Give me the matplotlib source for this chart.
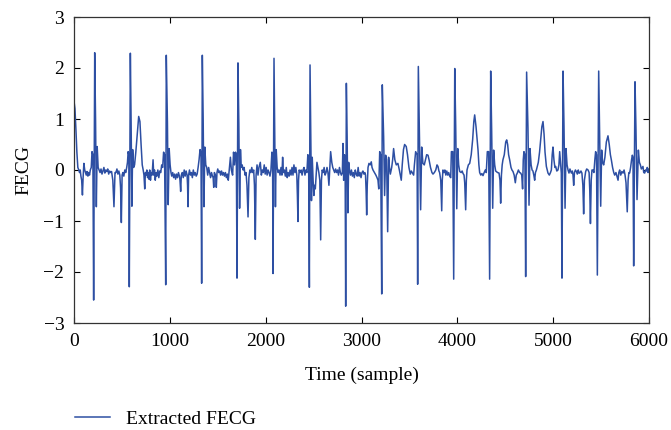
import matplotlib
matplotlib.use('Agg')
import matplotlib.pyplot as plt

# sample index / amplitude pairs
time_sample = [
    0, 10, 20, 30, 40, 50, 58, 65, 72, 80,
    88, 95, 103, 112, 120, 128, 136, 145, 153, 162,
    170, 180, 188, 197, 205, 216, 225, 233, 242, 252,
    262, 272, 282, 292, 302, 312, 322, 332, 342, 352,
    362, 372, 382, 392, 405, 417, 428, 438, 448, 458,
    468, 478, 486, 494, 502, 510, 520, 530, 540, 550,
    558, 565, 572, 577, 588, 596, 604, 612, 622, 632,
    645, 660, 675, 688, 700, 712, 722, 730, 738, 745,
    752, 760, 768, 775, 782, 790, 798, 806, 815, 825,
    832, 840, 848, 856, 865, 875, 885, 895, 905, 915,
    925, 935, 945, 957, 963, 975, 983, 993, 1003, 1012,
    1020, 1030, 1040, 1050, 1060, 1070, 1080, 1090, 1100, 1106,
    1113, 1120, 1130, 1140, 1150, 1160, 1170, 1180, 1185, 1190,
    1196, 1205, 1215, 1225, 1235, 1245, 1255, 1265, 1275, 1285,
    1295, 1305, 1315, 1325, 1332, 1339, 1348, 1356, 1365, 1375,
    1385, 1395, 1405, 1415, 1425, 1435, 1445, 1452, 1458, 1465,
    1475, 1480, 1485, 1492, 1500, 1510, 1520, 1530, 1540, 1550,
    1560, 1570, 1580, 1590, 1600, 1610, 1620, 1632, 1642, 1655,
    1665, 1675, 1685, 1694, 1701, 1711, 1720, 1728, 1737, 1745,
    1755, 1765, 1775, 1785, 1795, 1805, 1816, 1825, 1835, 1845,
    1855, 1865, 1875, 1883, 1892, 1900, 1910, 1920, 1930, 1944,
    1955, 1965, 1975, 1985, 1995, 2005, 2015, 2025, 2035, 2045,
    2055, 2065, 2072, 2077, 2087, 2094, 2102, 2110, 2120, 2130,
    2140, 2150, 2160, 2170, 2177, 2185, 2195, 2205, 2215, 2225,
    2235, 2245, 2255, 2265, 2275, 2285, 2295, 2305, 2315, 2325,
    2331, 2337, 2343, 2350, 2360, 2370, 2380, 2390, 2400, 2410,
    2420, 2430, 2440, 2448, 2456, 2463, 2470, 2478, 2486, 2495,
    2503, 2510, 2518, 2525, 2535, 2545, 2555, 2565, 2574, 2582,
    2590, 2600, 2610, 2620, 2630, 2640, 2650, 2660, 2668, 2678,
    2690, 2700, 2710, 2720, 2730, 2740, 2750, 2760, 2770, 2780,
    2790, 2800, 2807, 2814, 2822, 2829, 2835, 2842, 2850, 2858,
    2866, 2875, 2885, 2895, 2905, 2915, 2925, 2935, 2945, 2955,
    2965, 2975, 2985, 2995, 3005, 3015, 3025, 3035, 3042, 3048,
    3054, 3060, 3068, 3078, 3090, 3102, 3110, 3120, 3135, 3150,
    3162, 3172, 3180, 3190, 3200, 3211, 3217, 3231, 3241, 3252,
    3262, 3273, 3283, 3292, 3301, 3315, 3325, 3335, 3348, 3363,
    3380, 3395, 3405, 3415, 3425, 3438, 3450, 3467, 3480, 3495,
    3509, 3520, 3532, 3544, 3552, 3565, 3580, 3586, 3593, 3603,
    3617, 3628, 3641, 3655, 3668, 3680, 3694, 3705, 3720, 3735,
    3746, 3760, 3775, 3788, 3798, 3808, 3815, 3827, 3837, 3843,
    3850, 3860, 3870, 3880, 3890, 3900, 3910, 3920, 3931, 3938,
    3952, 3962, 3973, 3983, 3994, 4004, 4014, 4025, 4040, 4050,
    4060, 4070, 4077, 4087, 4094, 4101, 4115, 4129, 4145, 4160,
    4172, 4181, 4195, 4206, 4216, 4225, 4233, 4245, 4256, 4268,
    4280, 4292, 4302, 4313, 4327, 4337, 4348, 4358, 4369, 4379,
    4390, 4400, 4407, 4420, 4435, 4445, 4452, 4460, 4468, 4476,
    4490, 4505, 4515, 4525, 4535, 4546, 4560, 4570, 4581, 4593,
    4605, 4615, 4626, 4637, 4650, 4661, 4672, 4681, 4688, 4695,
    4705, 4713, 4723, 4737, 4748, 4758, 4770, 4780, 4789, 4798,
    4807, 4815, 4825, 4834, 4845, 4858, 4870, 4882, 4894, 4905,
    4915, 4929, 4946, 4960, 4972, 4981, 4990, 4998, 5008, 5018,
    5026, 5038, 5050, 5060, 5068, 5078, 5085, 5092, 5103, 5113,
    5124, 5134, 5145, 5155, 5165, 5175, 5190, 5200, 5207, 5214,
    5222, 5232, 5242, 5252, 5262, 5270, 5277, 5290, 5300, 5310,
    5318, 5326, 5339, 5350, 5364, 5375, 5382, 5389, 5397, 5405,
    5416, 5425, 5435, 5443, 5452, 5461, 5475, 5485, 5496, 5506,
    5516, 5527, 5540, 5555, 5572, 5585, 5597, 5607, 5620, 5632,
    5642, 5655, 5665, 5677, 5685, 5694, 5705, 5717, 5729, 5740,
    5750, 5760, 5773, 5782, 5790, 5798, 5808, 5818, 5826, 5833,
    5840, 5854, 5864, 5875, 5889, 5900, 5910, 5920, 5937, 5945,
    5955, 5965, 5972, 5982, 5990, 6000,
]

fecg_value = [
    1.35, 1.2, 0.8, 0.35, 0.05, 0.0, -0.05, 0.0, -0.12, -0.2,
    -0.49, -0.15, 0.13, 0.0, -0.05, -0.1, -0.03, -0.12, -0.05, -0.1,
    0.0, 0.05, 0.36, 0.3, -2.55, 2.3, 0.98, -0.72, 0.46, 0.05,
    0.0, -0.05, 0.02, -0.08, -0.02, 0.05, -0.06, 0.0, -0.03, 0.02,
    -0.08, -0.02, -0.05, -0.03, -0.2, -0.72, -0.05, -0.05, 0.02, -0.08,
    -0.02, -0.1, -0.35, -1.03, -0.1, -0.05, -0.12, 0.0, -0.05, 0.05,
    0.15, 0.36, 0.3, -2.29, 2.29, 0.93, -0.71, 0.4, 0.05, 0.1,
    0.35, 0.7, 1.05, 0.95, 0.5, 0.1, 0.0, -0.1, -0.37, -0.05,
    -0.1, 0.0, -0.15, -0.05, -0.18, 0.0, -0.2, -0.05, -0.1, 0.2,
    -0.1, 0.0, -0.2, -0.05, -0.12, 0.0, -0.15, -0.02, -0.05, 0.1,
    0.05, 0.35, 0.3, -2.25, 2.25, 0.92, -0.68, 0.42, 0.1, -0.05,
    -0.12, -0.05, -0.15, -0.08, -0.18, -0.08, -0.15, -0.05, -0.12, -0.2,
    -0.42, -0.1, -0.05, -0.15, 0.0, -0.12, -0.02, -0.1, -0.3, -0.72,
    -0.1, 0.0, -0.1, -0.05, -0.15, 0.0, -0.1, -0.05, -0.12, -0.08,
    0.05, 0.2, 0.4, 0.35, -2.22, 2.25, 0.98, -0.72, 0.45, 0.1,
    0.05, -0.1, 0.05, -0.05, -0.15, -0.05, -0.12, -0.15, -0.34, -0.05,
    -0.1, -0.15, -0.34, -0.05, 0.02, -0.05, -0.02, -0.1, -0.02, -0.1,
    -0.05, -0.12, -0.05, -0.15, -0.08, -0.2, 0.0, 0.25, 0.0, -0.1,
    0.35, 0.1, 0.35, 0.3, -2.12, 2.1, 0.92, -0.75, 0.4, 0.05,
    0.1, 0.0, 0.05, -0.1, -0.05, -0.3, -0.92, -0.15, 0.0, -0.05,
    0.05, -0.05, 0.0, -0.3, -1.36, -0.1, 0.1, -0.1, 0.05, 0.15,
    -0.1, 0.0, -0.05, 0.1, -0.08, 0.05, -0.1, 0.0, -0.05, -0.12,
    0.0, 0.35, 0.3, -2.03, 2.19, 0.92, -0.72, 0.4, 0.05, -0.05,
    0.0, -0.1, 0.05, -0.1, 0.25, -0.05, 0.0, -0.12, 0.05, -0.15,
    -0.05, -0.12, 0.0, -0.1, 0.05, -0.1, 0.1, -0.05, 0.05, -0.1,
    -0.5, -1.01, -0.2, 0.0, -0.05, 0.0, -0.1, 0.0, 0.05, -0.1,
    0.0, -0.05, 0.3, 0.25, -2.3, 2.06, 0.8, -0.6, 0.25, -0.2,
    -0.5, -0.3, -0.37, -0.15, 0.15, 0.05, -0.05, -0.2, -1.37, -0.2,
    0.0, -0.05, 0.05, -0.1, -0.05, 0.05, -0.05, -0.3, 0.0, 0.36,
    0.15, 0.05, 0.0, -0.05, 0.02, -0.05, 0.0, -0.1, 0.05, -0.05,
    -0.1, -0.05, 0.52, -0.2, 0.3, 0.2, -2.67, 1.7, 0.66, -0.84,
    0.15, 0.0, -0.1, 0.0, -0.12, -0.05, -0.15, 0.0, -0.08, -0.12,
    0.05, -0.12, -0.05, -0.15, -0.05, -0.02, -0.08, -0.05, -0.1, -0.4,
    -0.88, -0.3, 0.05, 0.13, 0.1, 0.16, 0.05, 0.0, -0.05, -0.1,
    -0.15, -0.2, -0.37, 0.36, 0.3, -2.43, 1.67, 0.65, -0.5, 0.29,
    0.2, -1.21, 0.25, 0.05, -0.08, 0.05, 0.2, 0.42, 0.2, 0.1,
    0.13, 0.0, -0.1, -0.2, 0.1, 0.4, 0.5, 0.46, 0.3, 0.05,
    -0.08, -0.02, -0.06, -0.1, 0.1, 0.36, 0.3, -2.24, 2.03, 0.89,
    -0.78, 0.45, 0.13, 0.1, 0.2, 0.3, 0.29, 0.2, 0.05, -0.05,
    -0.08, -0.05, 0.0, 0.1, 0.07, -0.02, -0.05, -0.2, -0.8, -0.2,
    0.0, -0.05, 0.0, -0.1, -0.02, -0.1, -0.05, -0.12, -0.15, 0.36,
    0.36, -2.14, 1.99, 0.86, -0.76, 0.42, 0.1, -0.03, -0.05, -0.02,
    -0.07, -0.1, -0.25, -0.78, -0.2, 0.0, 0.1, 0.13, 0.3, 0.6,
    0.95, 1.08, 0.85, 0.6, 0.39, 0.1, -0.05, -0.1, -0.07, -0.11,
    -0.05, 0.0, -0.05, 0.36, 0.36, -2.14, 1.94, 0.8, -0.75, 0.39,
    0.1, -0.02, -0.03, -0.05, -0.06, -0.2, -0.65, -0.1, 0.1, 0.2,
    0.3, 0.55, 0.59, 0.5, 0.3, 0.2, 0.05, 0.0, -0.03, -0.1,
    -0.25, -0.1, -0.06, 0.0, -0.05, -0.06, -0.1, -0.37, 0.2, 0.36,
    0.3, -2.09, 1.92, 0.83, -0.69, 0.42, 0.1, 0.0, -0.02, -0.1,
    -0.2, -0.05, 0.0, 0.07, 0.15, 0.35, 0.6, 0.85, 0.95, 0.7,
    0.35, 0.07, -0.06, -0.1, -0.05, 0.0, 0.3, 0.45, 0.2, 0.05,
    0.07, -0.02, 0.0, 0.1, 0.36, 0.1, -0.06, -2.12, 1.94, 0.86,
    -0.75, 0.42, 0.1, 0.0, -0.06, 0.02, -0.06, -0.02, -0.1, -0.3,
    -0.05, 0.0, -0.03, -0.08, 0.0, -0.06, -0.06, -0.02, -0.06, -0.3,
    -0.86, -0.2, -0.03, 0.02, 0.0, -0.05, -0.4, -1.05, -0.2, 0.0,
    0.0, -0.05, 0.2, 0.36, 0.3, -2.06, 1.94, 0.73, -0.71, 0.39,
    0.15, 0.1, 0.25, 0.55, 0.67, 0.5, 0.3, 0.2, 0.05, -0.05,
    -0.1, -0.05, -0.12, -0.2, -0.05, 0.0, -0.1, -0.03, -0.06, 0.0,
    -0.1, -0.25, -0.82, -0.2, -0.05, -0.06, 0.05, 0.2, 0.29, 0.25,
    -1.88, 1.73, 0.8, -0.58, 0.39, 0.15, 0.1, 0.02, 0.07, -0.05,
    -0.06, 0.0, -0.02, 0.05, -0.05, 0.02,
]

x_ticks = [0, 1000, 2000, 3000, 4000, 5000, 6000]
y_ticks = [-3, -2, -1, 0, 1, 2, 3]

plt.rcParams['font.family'] = ['Liberation Serif', 'DejaVu Serif']
plt.rcParams['font.size'] = 14

fig = plt.figure(figsize=(6.71, 4.30), dpi=100)
ax = fig.add_axes([74 / 671, 1 - 323 / 430, 575 / 671, 306 / 430])

ax.plot(time_sample, fecg_value, color='#2d4fa3', lw=1.1, label='Extracted FECG')

ax.set_xlim(0, 6000)
ax.set_ylim(-3, 3)
ax.set_xticks(x_ticks)
ax.set_yticks(y_ticks)
ax.tick_params(direction='in', top=True, right=True, length=4, width=0.8, pad=7)
for s in ax.spines.values():
    s.set_linewidth(0.9)
    s.set_color('#333333')

ax.set_xlabel('Time (sample)', labelpad=12)
ax.set_ylabel('FECG', labelpad=8)

fig.legend(loc='center left', bbox_to_anchor=(75 / 671, 1 - 419 / 430),
           bbox_transform=fig.transFigure, frameon=False,
           handlelength=1.8, handletextpad=0.8, borderpad=0, borderaxespad=0)

fig.savefig('out.png', dpi=100)
